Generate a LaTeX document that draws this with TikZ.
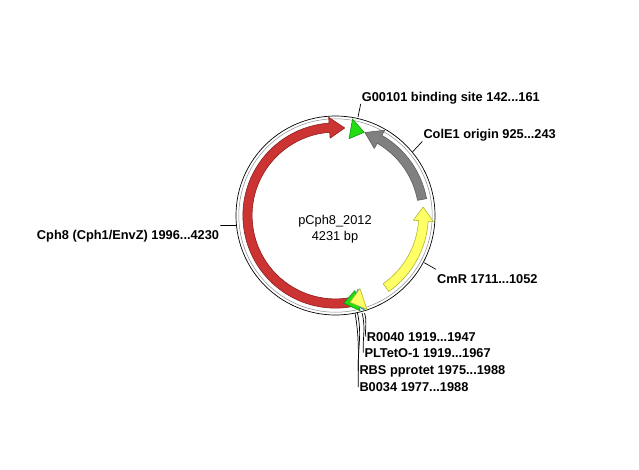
\documentclass[tikz,border=0pt]{standalone}
\usepackage{fontspec}
\setmainfont{Liberation Sans}
\definecolor{redF}{HTML}{CC3333}
\definecolor{redD}{HTML}{8E1E1E}
\definecolor{greyF}{HTML}{808080}
\definecolor{greyD}{HTML}{5E5E5E}
\definecolor{yelF}{HTML}{FFFF66}
\definecolor{yelD}{HTML}{B5B530}
\definecolor{grnF}{HTML}{22DD11}
\definecolor{grnD}{HTML}{14931A}
\definecolor{cyaF}{HTML}{33CCDD}
\definecolor{cyaD}{HTML}{1A8C99}
\newcommand\featarrow[6]{%
 \pgfmathsetmacro\myA{90-#2}\pgfmathsetmacro\myB{90-#3}\pgfmathsetmacro\myT{90-#4}%
 \pgfmathsetmacro\myRo{88+#5}\pgfmathsetmacro\myRi{88-#5}%
 \pgfmathsetmacro\myHo{88+#6}\pgfmathsetmacro\myHi{88-#6}%
 \path[#1] (\myA:\myRo) arc[start angle=\myA, end angle=\myB, radius=\myRo]
   -- (\myB:\myHo) -- (\myT:88) -- (\myB:\myHi) -- (\myB:\myRi)
   arc[start angle=\myB, end angle=\myA, radius=\myRi] -- cycle;}
\newcommand\feathead[4]{%
 \pgfmathsetmacro\myB{90-#2}\pgfmathsetmacro\myT{90-#3}%
 \pgfmathsetmacro\myHo{88+#4}\pgfmathsetmacro\myHi{88-#4}%
 \path[#1] (\myB:\myHo) -- (\myT:88) -- (\myB:\myHi) -- cycle;}
\tikzset{
 redfeat/.style={fill=redF, draw=redD, line width=0.6pt, line join=round},
 greyfeat/.style={fill=greyF, draw=greyD, line width=0.6pt, line join=round},
 yelfeat/.style={fill=yelF, draw=yelD, line width=0.6pt, line join=round},
 grnfeat/.style={fill=grnF, draw=grnD, line width=0.6pt, line join=round},
 cyafeat/.style={fill=cyaF, draw=cyaD, line width=0.6pt, line join=round},
 lbl/.style={font=\bfseries\fontsize{12.8}{15}\selectfont, inner xsep=1pt, inner ysep=0pt, anchor=base west},
 ctext/.style={font=\fontsize{12.8}{15}\selectfont, inner sep=0pt, anchor=base},
 conn/.style={draw=black, line width=0.7pt}
}
\begin{document}
\begin{tikzpicture}[x=1pt,y=1pt]
\useasboundingbox (0,0) rectangle (639,-469);
\fill[white] (0,0) rectangle (639,-469);
\begin{scope}[shift={(335.5,-215.5)}]
 \draw[black, line width=0.7pt] (0,0) circle[radius=99.5];
 \draw[black!45, line width=0.5pt] (0,0) circle[radius=96.7];
 \featarrow{redfeat}{170}{356}{366}{4.6}{10.5}
 \featarrow{greyfeat}{79.5}{30}{19.5}{4.6}{10.5}
 \feathead{grnfeat}{10}{19}{10}
 \featarrow{yelfeat}{145}{93.5}{84.5}{4.8}{10}
 \feathead{grnfeat}{165.5}{174.5}{10.5}
 \feathead{cyafeat}{163}{169}{11}
 \feathead{yelfeat}{161.5}{170.5}{11}
\end{scope}
\node[ctext] (title) at (335,-224) {pCph8\_2012};
\node[ctext] (len) at (335,-240) {4231 bp};
\node[lbl] (lG) at (360.7,-101) {G00101 binding site 142...161};
\node[lbl] (lCol) at (422.3,-138.5) {ColE1 origin 925...243};
\node[lbl] (lCmR) at (436,-283) {CmR 1711...1052};
\node[lbl, anchor=base east] (lCph) at (220.3,-239) {Cph8 (Cph1/EnvZ) 1996...4230};
\node[lbl] (lR) at (365.7,-341) {R0040 1919...1947};
\node[lbl] (lP) at (363.3,-357) {PLTetO-1 1919...1967};
\node[lbl] (lRBS) at (358.3,-374) {RBS pprotet 1975...1988};
\node[lbl] (lB) at (358.3,-391.5) {B0034 1977...1988};
\coordinate (cG) at (358,-117);
\coordinate (cCol) at (412.7,-151.7);
\coordinate (cCmR) at (424.3,-262.7);
\coordinate (cCph) at (236,-225.5);
\coordinate (cR) at (364.5,-313);
\coordinate (cP) at (362,-313);
\coordinate (cRBS) at (357.5,-313);
\coordinate (cB) at (355,-313);
\draw[conn] (cG) -- (lG.south west);
\draw[conn] (cCol) -- (lCol.south west);
\draw[conn] (cCmR) -- ([yshift=4.5pt]lCmR.north west);
\draw[conn] (cCph) -- ([yshift=4pt]lCph.north east);
\draw[conn] (cR) to[out=-72,in=95] (lR.west);
\draw[conn] (cP) to[out=-75,in=93] (lP.west);
\draw[conn] (cRBS) to[out=-78,in=92] (lRBS.west);
\draw[conn] (cB) to[out=-80,in=91] (lB.west);
\end{tikzpicture}
\end{document}
